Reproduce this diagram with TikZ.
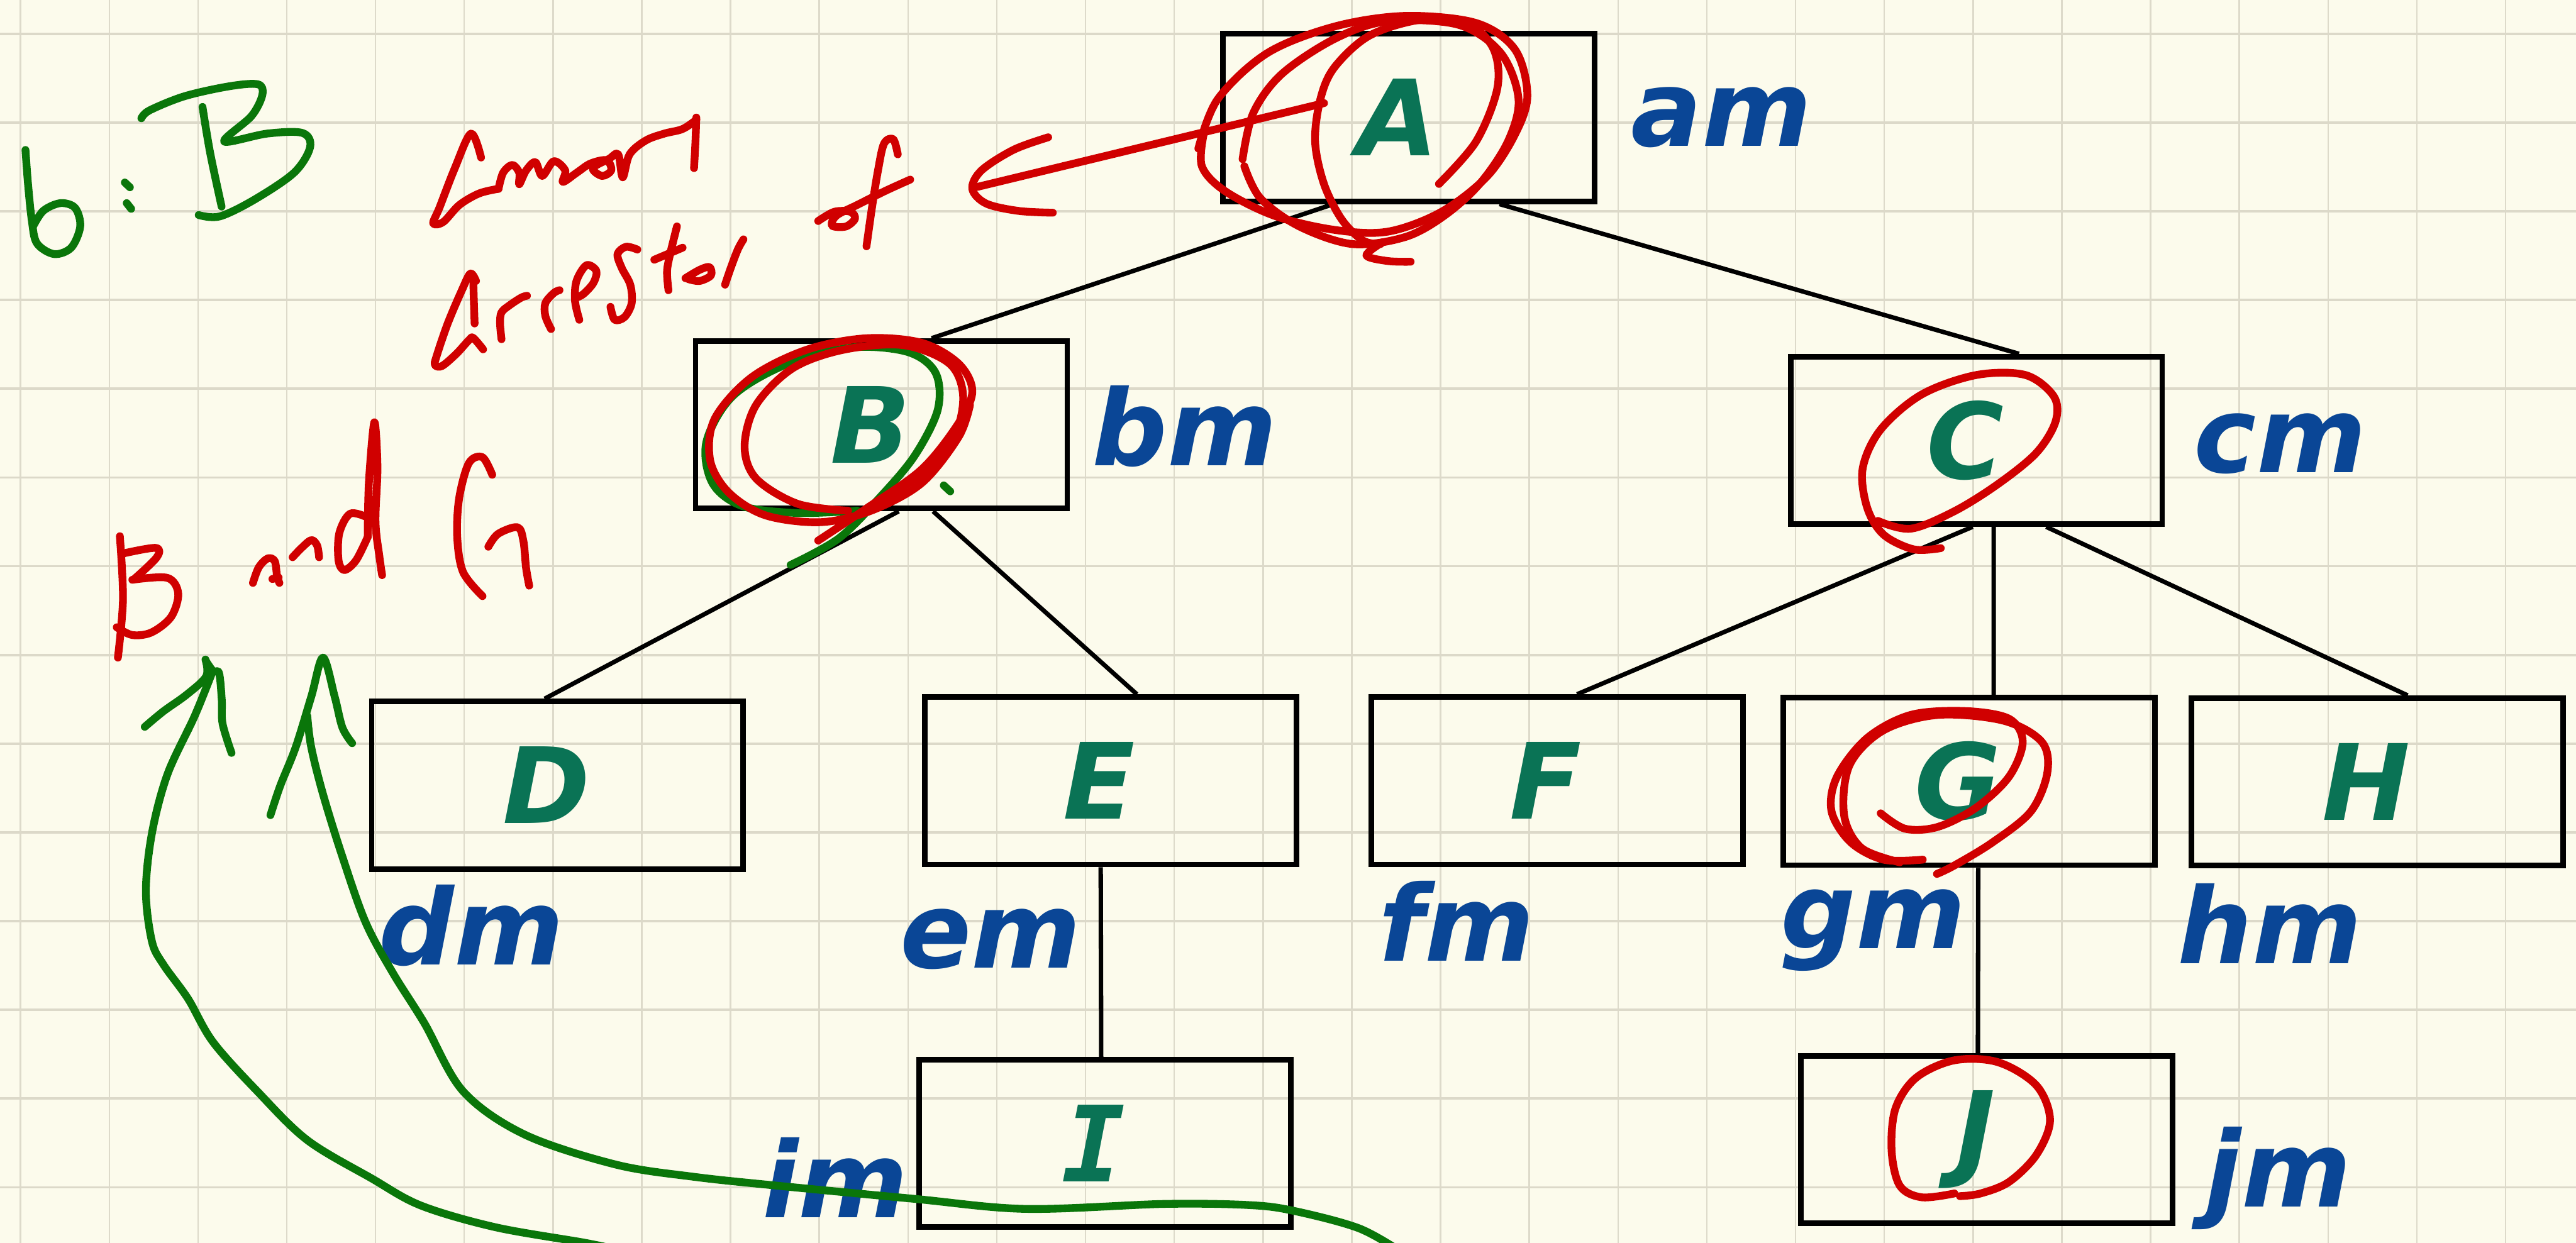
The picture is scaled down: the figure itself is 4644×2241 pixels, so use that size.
\documentclass[tikz,border=0pt]{standalone}
\usepackage{fontspec}
\setmainfont{DejaVu Sans}
\newfontfamily\barfont{DejaVu Sans Mono}
\usetikzlibrary{calc}
\definecolor{paper}{HTML}{FCFBEC}
\definecolor{gridh}{HTML}{DCD9C9}
\definecolor{gridv}{HTML}{DDDACA}
\definecolor{keygreen}{RGB}{10,115,85}
\definecolor{labelblue}{RGB}{10,70,150}
\definecolor{penred}{RGB}{208,0,0}
\definecolor{pengreen}{RGB}{10,118,10}
\newcommand\keyfont{\fontsize{54}{54}\selectfont\bfseries\itshape}
\newcommand\memfont{\fontsize{54}{54}\selectfont\bfseries\itshape}

\begin{document}
\begin{tikzpicture}[x=0.1mm, y=-0.1mm,
  keybox/.style={draw=black, line width=1.0mm, minimum width=67mm, minimum height=30.2mm,
                 inner sep=0pt, font=\keyfont, text=keygreen,
                 execute at end node={\kern4mm}},
  mem/.style={anchor=base west, inner sep=0pt, font=\memfont, text=labelblue},
  edge/.style={draw=black, line width=0.8mm},
  ink/.style={line width=1.4mm, line cap=round, line join=round},
  redink/.style={ink, draw=penred},
  greenink/.style={ink, draw=pengreen},
  hand/.style={smooth, tension=0.55},
]
% squared paper
\fill[paper] (0,0) rectangle (4644,2241);
\useasboundingbox (0,0) rectangle (4644,2241);
\foreach \k in {0,...,28}
  \draw[gridv, line width=0.28mm] ({37+160*\k},0) -- ({37+160*\k},2241);
\foreach \k in {0,...,13}
  \draw[gridh, line width=0.42mm] (0,{61+160*\k}) -- (4644,{61+160*\k});

% tree nodes
\node[keybox] (A) at (2540,212)    {A};
\node[keybox] (B) at (1589,766)    {B};
\node[keybox] (C) at (3563,794)    {C};
\node[keybox] (D) at (1005,1416)   {D};
\node[keybox] (E) at (2002,1408)   {E};
\node[keybox] (F) at (2807,1408)   {F};
\node[keybox] (G) at (3550,1409)   {G};
\node[keybox] (H) at (4286,1410)   {H};
\node[keybox] (I) at (1992,2062)   {\barfont I};
\node[keybox] (J) at (3582,2055)   {J};

% memory labels
\node[mem] (am) at (2940,264)  {am};
\node[mem] (bm) at (1968,839)  {bm};
\node[mem] (cm) at (3955,852)  {cm};
\node[mem] (dm) at (682,1740)  {dm};
\node[mem] (em) at (1622,1745) {em};
\node[mem] (fm) at (2485,1733) {fm};
\node[mem] (gm) at (3210,1710) {gm};
\node[mem] (hm) at (3925,1738) {hm};
\node[mem] (im) at (1374,2196) {im};
\node[mem] (jm) at (3975,2176) {jm};

% tree edges
\draw[edge] ($(A.south west)!0.30!(A.south east)$) -- ($(B.north west)!0.633!(B.north east)$);
\draw[edge] ($(A.south west)!0.74!(A.south east)$) -- ($(C.north west)!0.613!(C.north east)$);
\draw[edge] ($(B.south west)!0.546!(B.south east)$) -- ($(D.north west)!0.466!(D.north east)$);
\draw[edge] ($(B.south west)!0.637!(B.south east)$) -- ($(E.north west)!0.57!(E.north east)$);
\draw[edge] ($(C.south west)!0.49!(C.south east)$) -- ($(F.north west)!0.553!(F.north east)$);
\draw[edge] ($(C.south west)!0.546!(C.south east)$) -- ($(G.north west)!0.565!(G.north east)$);
\draw[edge] ($(C.south west)!0.685!(C.south east)$) -- ($(H.north west)!0.58!(H.north east)$);
\draw[edge] ($(E.south west)!0.474!(E.south east)$) -- ($(I.north west)!0.49!(I.north east)$);
\draw[edge] ($(G.south west)!0.524!(G.south east)$) -- ($(J.north west)!0.476!(J.north east)$);

% ---- handwritten notes ----
% "b : B"
\begin{scope}[xscale=1.148, yscale=0.5102]
  \draw[greenink] plot[hand] coordinates {(40,530) (44,650) (50,780) (58,860) (85,898) (112,875) (126,800) (118,735) (95,718) (68,745) (52,800)};
  \draw[greenink] (196,645) -- (204,662);
  \draw[greenink] (199,718) -- (206,738);
  \draw[greenink] plot[hand] coordinates {(318,378) (330,540) (348,730)};
  \draw[greenink] plot[hand] coordinates {(222,418) (235,390) (290,340) (360,305) (405,298) (412,335) (395,410) (352,500) (420,472) (475,470) (487,520) (462,610) (400,705) (345,765) (312,760)};
\end{scope}

% "Common"
\begin{scope}[shift={(650,100)}, scale=0.8292]
  \draw[redink] plot[hand] coordinates {(262,222) (240,170) (205,245) (172,330) (158,365) (180,362) (215,325) (258,300) (300,290)};
  \draw[redink] plot[hand] coordinates {(300,290) (310,255) (330,238) (345,255) (345,280) (360,250) (380,232) (395,262) (420,230) (445,250) (440,275) (470,255) (500,235) (535,228) (545,250) (525,262) (505,245) (540,225) (560,215) (570,265) (585,215) (620,185) (660,170) (700,160) (730,140)};
  \draw[redink] plot[hand] coordinates {(730,135) (728,190) (725,245)};
\end{scope}

% "Ancester"
\begin{scope}[shift={(700,350)}, xscale=0.5102, yscale=0.3333]
  \draw[redink] plot[hand] coordinates {(310,470) (290,430) (260,520) (210,700) (170,880) (165,925) (190,930) (240,865) (285,790) (300,778) (335,840)};
  \draw[redink] plot[hand] coordinates {(300,445) (302,560) (305,700)};
  \draw[redink] plot[hand] coordinates {(400,785) (395,700) (400,640) (430,600) (470,560) (490,550)};
  \draw[redink] plot[hand] coordinates {(575,730) (555,660) (555,590) (585,535) (605,520)};
  \draw[redink] plot[hand] coordinates {(675,680) (660,580) (665,470) (700,385) (735,415) (725,480) (690,540) (665,560)};
  \draw[redink] plot[hand] coordinates {(880,300) (840,285) (810,325) (825,400) (855,490) (860,590) (835,665) (800,680) (785,610)};
  \draw[redink] plot[hand] coordinates {(1020,175) (995,330) (985,420) (990,520)};
  \draw[redink] (940,355) -- (1040,290);
  \draw[redink] plot[hand] coordinates {(1050,455) (1100,410) (1135,395) (1140,440) (1100,470) (1060,460)};
  \draw[redink] plot[hand] coordinates {(1190,490) (1210,400) (1235,300) (1255,245)};
\end{scope}

% "of", its arrow, and the circles round B
\begin{scope}[shift={(650,100)}, scale=0.8292]
  \draw[redink] plot[hand] coordinates {(995,360) (1030,340) (1065,340) (1075,355) (1055,372) (1025,370) (1035,348) (1080,325) (1140,295) (1195,270)};
  \draw[redink] plot[hand] coordinates {(1168,215) (1158,182) (1138,192) (1125,250) (1112,330) (1100,415)};
  \draw[redink] plot[hand] coordinates {(1495,178) (1420,205) (1350,250) (1330,290) (1360,322) (1430,338) (1505,342)};
  \draw[greenink] plot[hand] coordinates {(935,1108) (1040,1050) (1130,960) (1205,870) (1255,770) (1250,690) (1190,645) (1070,635) (930,670) (810,740) (752,840) (765,930) (830,980) (950,995) (1080,990)};
  \draw[greenink] (1268,935) -- (1282,948);
  \draw[redink] plot[hand] coordinates {(995,1055) (1100,985) (1220,900) (1300,800) (1330,730) (1300,670) (1220,625) (1100,615) (970,640) (850,700) (770,790) (760,880) (800,950) (880,1000) (1000,1015) (1110,990) (1220,930) (1300,830) (1325,760)};
  \draw[redink] plot[hand] coordinates {(1120,975) (1220,910) (1290,830) (1310,740) (1280,670) (1180,630) (1050,640) (940,680) (860,760) (835,850) (860,920) (950,975) (1060,990)};
\end{scope}
\draw[redink] (1762,337) -- (2387,186);

% A circled several times
\begin{scope}[shift={(1800,0)}, scale=0.6378]
  \draw[redink] plot[hand] coordinates {(565,420) (620,280) (760,150) (950,75) (1150,45) (1350,65) (1460,140) (1495,270) (1460,380) (1380,500) (1250,600) (1100,655) (950,650) (780,610) (640,540) (575,470) (580,380)};
  \draw[redink] plot[hand] coordinates {(690,450) (720,320) (800,210) (950,110) (1100,60) (1300,70) (1420,150) (1470,280) (1440,400) (1360,520) (1260,610) (1150,670) (1000,690) (850,640) (740,560) (695,470)};
  \draw[redink] plot[hand] coordinates {(1245,520) (1350,400) (1410,250) (1400,140) (1330,70) (1200,55) (1050,100) (950,190) (910,280) (895,400) (920,520) (970,620) (1030,680) (1080,690)};
  \draw[redink] plot[hand] coordinates {(1085,685) (1040,722) (1100,738) (1165,740)};
\end{scope}

% "B and G" with the two green arrows
\begin{scope}[shift={(0,800)}, scale=0.7015]
  \draw[redink] plot[hand] coordinates {(308,238) (316,400) (303,550)};
  \draw[redink] plot[hand] coordinates {(318,282) (400,268) (403,292) (345,348)};
  \draw[redink] plot[hand] coordinates {(340,350) (430,345) (458,385) (440,445) (390,485) (340,492) (300,472)};
  \draw[redink] plot[hand] coordinates {(650,358) (665,318) (688,295) (706,302) (712,340) (718,358)};
  \draw[redink] (700,348) -- (716,344);
  \draw[redink] plot[hand] coordinates {(752,292) (775,268) (800,248) (815,262) (820,292)};
  \draw[redink] plot[hand] coordinates {(945,190) (900,180) (872,230) (870,300) (885,325) (915,300) (945,240)};
  \draw[redink] plot[hand] coordinates {(945,240) (948,100) (962,-55) (970,60) (965,200) (975,290) (982,338)};
  \draw[redink] plot[hand] coordinates {(1265,80) (1240,35) (1205,50) (1180,140) (1175,240) (1190,330) (1240,392)};
  \draw[redink] plot[hand] coordinates {(1255,265) (1280,232) (1330,215) (1345,250) (1352,320) (1360,365)};
  \draw[greenink] plot[hand] coordinates {(372,728) (420,688) (480,645) (530,598) (528,555)};
  \draw[greenink] plot[hand] coordinates {(530,560) (548,585) (563,590) (570,660) (572,720) (595,795)};
  \draw[greenink] plot[hand] coordinates {(695,955) (720,880) (760,780) (800,650) (830,550) (860,650) (880,730) (905,770)};
\end{scope}
\draw[greenink] plot[hand] coordinates {(382,1214) (351,1291) (302,1396) (274,1502) (263,1607) (274,1698) (295,1740) (339,1801) (384,1879) (464,1968) (554,2056) (670,2125) (759,2174) (893,2213) (1054,2241) (1120,2255)};
\draw[greenink] plot[hand] coordinates {(554,1291) (561,1347) (582,1431) (617,1544) (659,1663) (708,1754) (765,1845) (835,1968) (946,2046) (1110,2100) (1250,2122) (1400,2138) (1650,2162) (1850,2180) (2100,2171) (2250,2173) (2330,2183) (2450,2215) (2530,2260)};

% C, G and J circled in red
\begin{scope}[shift={(3100,550)}, xscale=0.9847, yscale=0.7015]
  \draw[redink] plot[hand] coordinates {(405,625) (355,628) (300,590) (270,520) (262,420) (295,320) (370,230) (470,180) (560,180) (612,235) (615,300) (580,380) (510,460) (430,530) (350,575) (290,555)};
\end{scope}
\begin{scope}[shift={(3100,1150)}, xscale=0.9847, yscale=0.6959]
  \draw[redink] plot[hand] coordinates {(295,455) (340,495) (400,490) (470,440) (530,360) (555,270) (530,210) (450,190) (350,200) (270,260) (215,360) (205,450) (240,530) (300,575) (372,575)};
  \draw[redink] plot[hand] coordinates {(330,582) (260,545) (228,460) (238,330) (300,240) (400,200) (520,215) (590,270) (600,350) (570,450) (500,530) (430,590) (398,612)};
  \draw[redink] plot[hand] coordinates {(430,1440) (370,1450) (330,1420) (315,1330) (322,1220) (360,1140) (430,1095) (510,1100) (580,1160) (605,1250) (580,1340) (530,1410) (478,1440) (440,1447)};
\end{scope}
\end{tikzpicture}
\end{document}
